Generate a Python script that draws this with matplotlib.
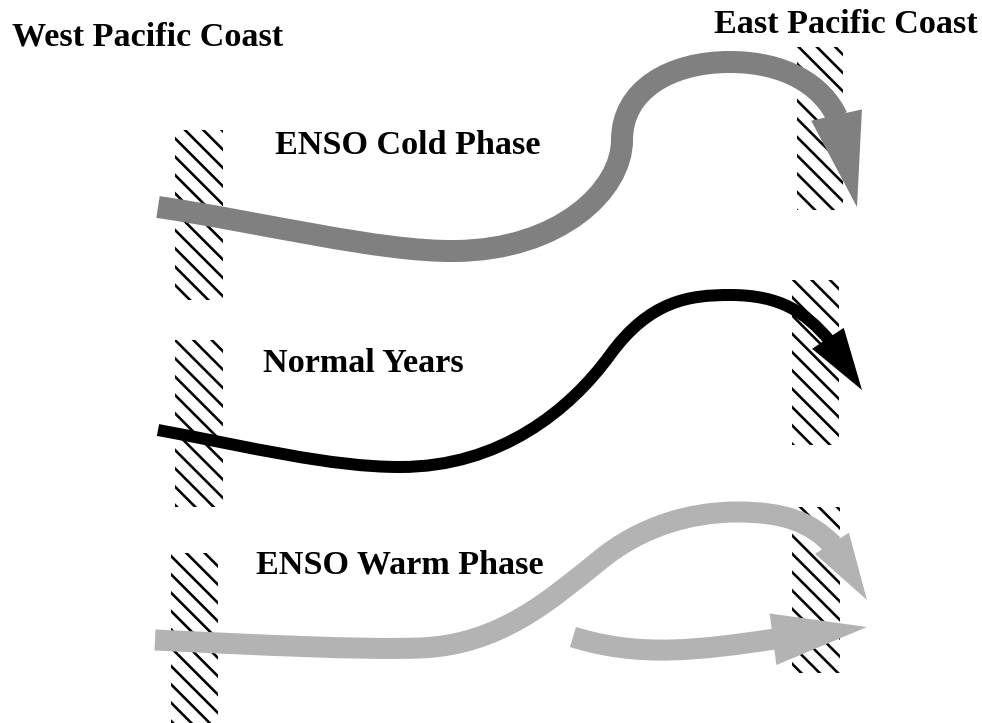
import matplotlib
matplotlib.use("Agg")
import matplotlib.pyplot as plt
import numpy as np
from matplotlib.path import Path
from matplotlib.patches import PathPatch, Polygon, Rectangle

DPI = 110
W, H = 983, 723

# coast hatch bars: x, y, width, height (pixel units of the picture)
west_bars = [(175, 130, 48, 170), (175, 340, 48, 167), (171, 553, 47, 175)]
east_bars = [(797, 47, 46, 163), (792, 280, 47, 165), (792, 507, 48, 166)]

# arrow bodies: chains of cubic bezier points (start, c1, c2, end, c1, c2, end ...)
cold_pts = [(158, 207), (260, 222), (380, 252), (455, 251),
            (560, 250), (622, 190), (622, 140),
            (622, 90), (670, 62), (730, 62),
            (785, 62), (822, 85), (837, 117)]
normal_pts = [(158, 430), (250, 447), (330, 467), (400, 467),
              (500, 467), (570, 410), (610, 355),
              (650, 300), (690, 295), (730, 295),
              (780, 295), (805, 312), (829, 340)]
warm_pts = [(155, 640), (260, 645), (360, 650), (420, 648),
            (500, 645), (550, 600), (600, 560),
            (640, 527), (690, 512), (737, 512),
            (785, 512), (810, 522), (833, 545)]
warm2_pts = [(573, 637), (640, 658), (700, 650), (775, 639)]

# arrow heads: tip, base width
cold_head = ((857, 207), 52)
normal_head = ((862, 390), 38)
warm_head = ((867, 600), 40)
warm2_head = ((867, 627), 52)

colors = {"cold": "#808080", "normal": "#000000", "warm": "#b3b3b3"}
widths_px = {"cold": 22, "normal": 12, "warm": 21}

labels = ["ENSO Cold Phase", "Normal Years", "ENSO Warm Phase"]
label_pos = [(275, 154), (263, 372), (256, 573)]


def px2pt(v):
    return v * 72.0 / DPI


plt.rcParams["hatch.linewidth"] = px2pt(2.6)
plt.rcParams["hatch.color"] = "black"

fig = plt.figure(figsize=(W / DPI, H / DPI), dpi=DPI)
ax = fig.add_axes([0, 0, 1, 1])
ax.set_xlim(0, W)
ax.set_ylim(H, 0)
ax.axis("off")

for (x, y, w, h) in west_bars + east_bars:
    ax.add_patch(Rectangle((x, y), w, h, fill=False, hatch="\\\\", edgecolor="black",
                           linewidth=0, zorder=1))


def arrow(pts, head, color, lw_px):
    codes = [Path.MOVETO] + [Path.CURVE4] * (len(pts) - 1)
    ax.add_patch(PathPatch(Path(pts, codes), facecolor="none", edgecolor=color,
                           linewidth=px2pt(lw_px), capstyle="butt", joinstyle="round",
                           zorder=2))
    tip, hw = head
    end = np.array(pts[-1], float)
    tip = np.array(tip, float)
    d = tip - end
    d /= np.hypot(*d)
    n = np.array([-d[1], d[0]])
    back = end - d * 2
    poly = [back + n * hw / 2, tip, back - n * hw / 2]
    ax.add_patch(Polygon(poly, closed=True, facecolor=color, edgecolor="none", zorder=3))


arrow(cold_pts, cold_head, colors["cold"], widths_px["cold"])
arrow(normal_pts, normal_head, colors["normal"], widths_px["normal"])
arrow(warm_pts, warm_head, colors["warm"], widths_px["warm"])
arrow(warm2_pts, warm2_head, colors["warm"], widths_px["warm"])

font = dict(family=["Liberation Serif", "DejaVu Serif"], fontweight="bold", fontsize=22.3,
            color="black", va="baseline", ha="left", zorder=4)
ax.text(12, 45, "West Pacific Coast", **font)
ax.text(714, 33, "East Pacific Coast", **font)
for txt, (x, y) in zip(labels, label_pos):
    ax.text(x, y, txt, **font)

fig.savefig("out.png", dpi=DPI, facecolor="white")
